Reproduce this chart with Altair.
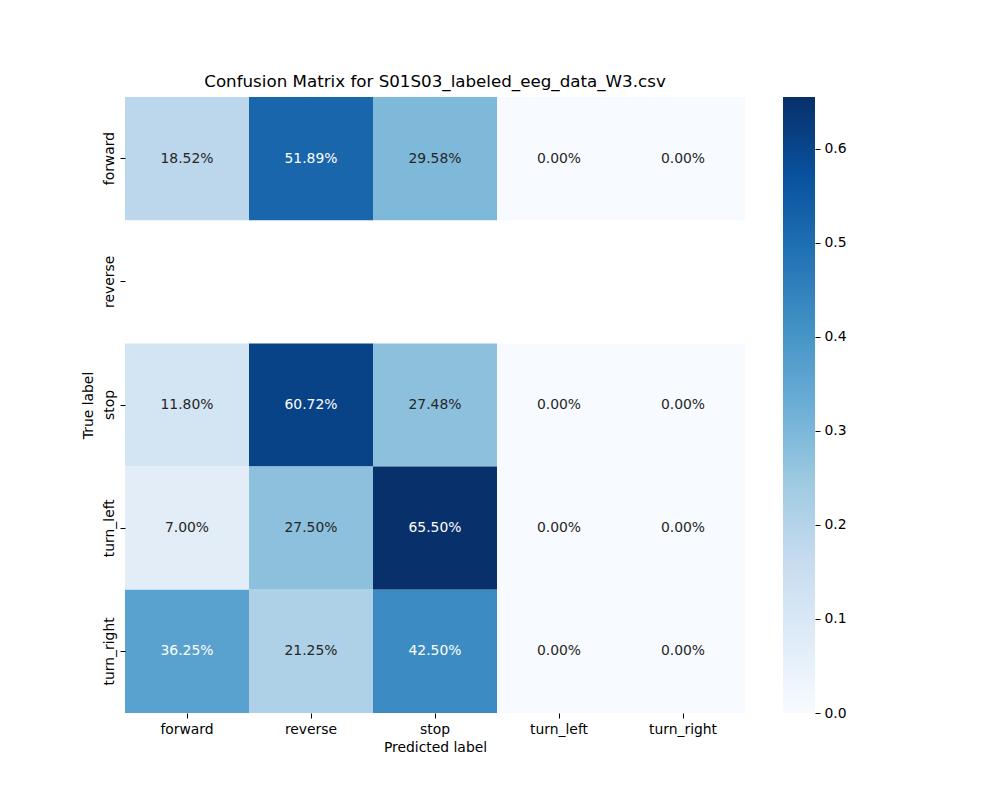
import altair as alt
import pandas as pd

true_labels = ["forward", "reverse", "stop", "turn_left", "turn_right"]
pred_labels = ["forward", "reverse", "stop", "turn_left", "turn_right"]
matrix = [
    [0.1852, 0.5189, 0.2958, 0.0, 0.0],
    [None, None, None, None, None],
    [0.1180, 0.6072, 0.2748, 0.0, 0.0],
    [0.0700, 0.2750, 0.6550, 0.0, 0.0],
    [0.3625, 0.2125, 0.4250, 0.0, 0.0],
]
cbar_ticks = [0.0, 0.1, 0.2, 0.3, 0.4, 0.5, 0.6]
cmax = 0.655
blues = ["#f7fbff", "#deebf7", "#c6dbef", "#9ecae1", "#6baed6",
         "#4292c6", "#2171b5", "#08519c", "#08306b"]

rows = []
for i, t in enumerate(true_labels):
    for j, p in enumerate(pred_labels):
        v = matrix[i][j]
        if v is not None:
            rows.append({"true": t, "pred": p, "value": v})
df = pd.DataFrame(rows)

FONT = "DejaVu Sans"
W, H = 620, 616

base = alt.Chart(df).encode(
    x=alt.X("pred:N", sort=pred_labels, scale=alt.Scale(domain=pred_labels, paddingInner=0, paddingOuter=0),
            axis=alt.Axis(title="Predicted label", labelAngle=0, domain=False, ticks=True,
                          tickColor="black", tickSize=5, labelFontSize=13.9, titleFontSize=13.9,
                          labelFont=FONT, titleFont=FONT, titleFontWeight="normal",
                          labelColor="black", titleColor="black", labelPadding=4, titlePadding=5)),
    y=alt.Y("true:N", sort=true_labels, scale=alt.Scale(domain=true_labels, paddingInner=0, paddingOuter=0),
            axis=alt.Axis(title="True label", labelAngle=-90, labelAlign="center", labelBaseline="bottom",
                          domain=False, ticks=True, tickColor="black", tickSize=5,
                          labelFontSize=13.9, titleFontSize=13.9, labelFont=FONT, titleFont=FONT,
                          titleFontWeight="normal", labelColor="black", titleColor="black",
                          labelPadding=4, titlePadding=7)),
)

rects = base.mark_rect(strokeWidth=0).encode(
    color=alt.Color("value:Q", scale=alt.Scale(domain=[0, cmax], range=blues, interpolate="rgb"), legend=None)
)
texts = base.mark_text(font=FONT, fontSize=13.9).encode(
    text=alt.Text("value:Q", format=".2%"),
    color=alt.condition(alt.datum.value > 0.33, alt.value("white"), alt.value("#262626")),
)

heat = (rects + texts).properties(
    width=W, height=H,
    title=alt.TitleParams("Confusion Matrix for S01S03_labeled_eeg_data_W3.csv", font=FONT,
                          fontSize=16.7, fontWeight="normal", color="black", offset=6),
)

cb_df = pd.DataFrame({"lo": [0.0], "hi": [cmax]})
grad = alt.Gradient(
    gradient="linear",
    stops=[alt.GradientStop(offset=k / (len(blues) - 1), color=c) for k, c in enumerate(blues)],
    x1=0, x2=0, y1=1, y2=0,
)
cbar = alt.Chart(cb_df).mark_rect(color=grad, strokeWidth=0).encode(
    x=alt.value(0), x2=alt.value(32),
    y=alt.Y("lo:Q", scale=alt.Scale(domain=[0, cmax], nice=False, zero=False),
            axis=alt.Axis(orient="right", values=cbar_ticks, format=".1f", title=None, domain=False,
                          grid=False, tickColor="black", tickSize=5, labelFontSize=13.9, labelFont=FONT,
                          labelColor="black", labelPadding=4)),
    y2="hi:Q",
).properties(width=32, height=H)

chart = alt.hconcat(heat, cbar, spacing=38).configure_view(stroke=None, strokeWidth=0).properties(
    background="white",
    padding={"left": 72, "top": 66, "right": 5, "bottom": 5},
)

chart.save("out.html", embed_options={"renderer": "svg", "actions": False})
